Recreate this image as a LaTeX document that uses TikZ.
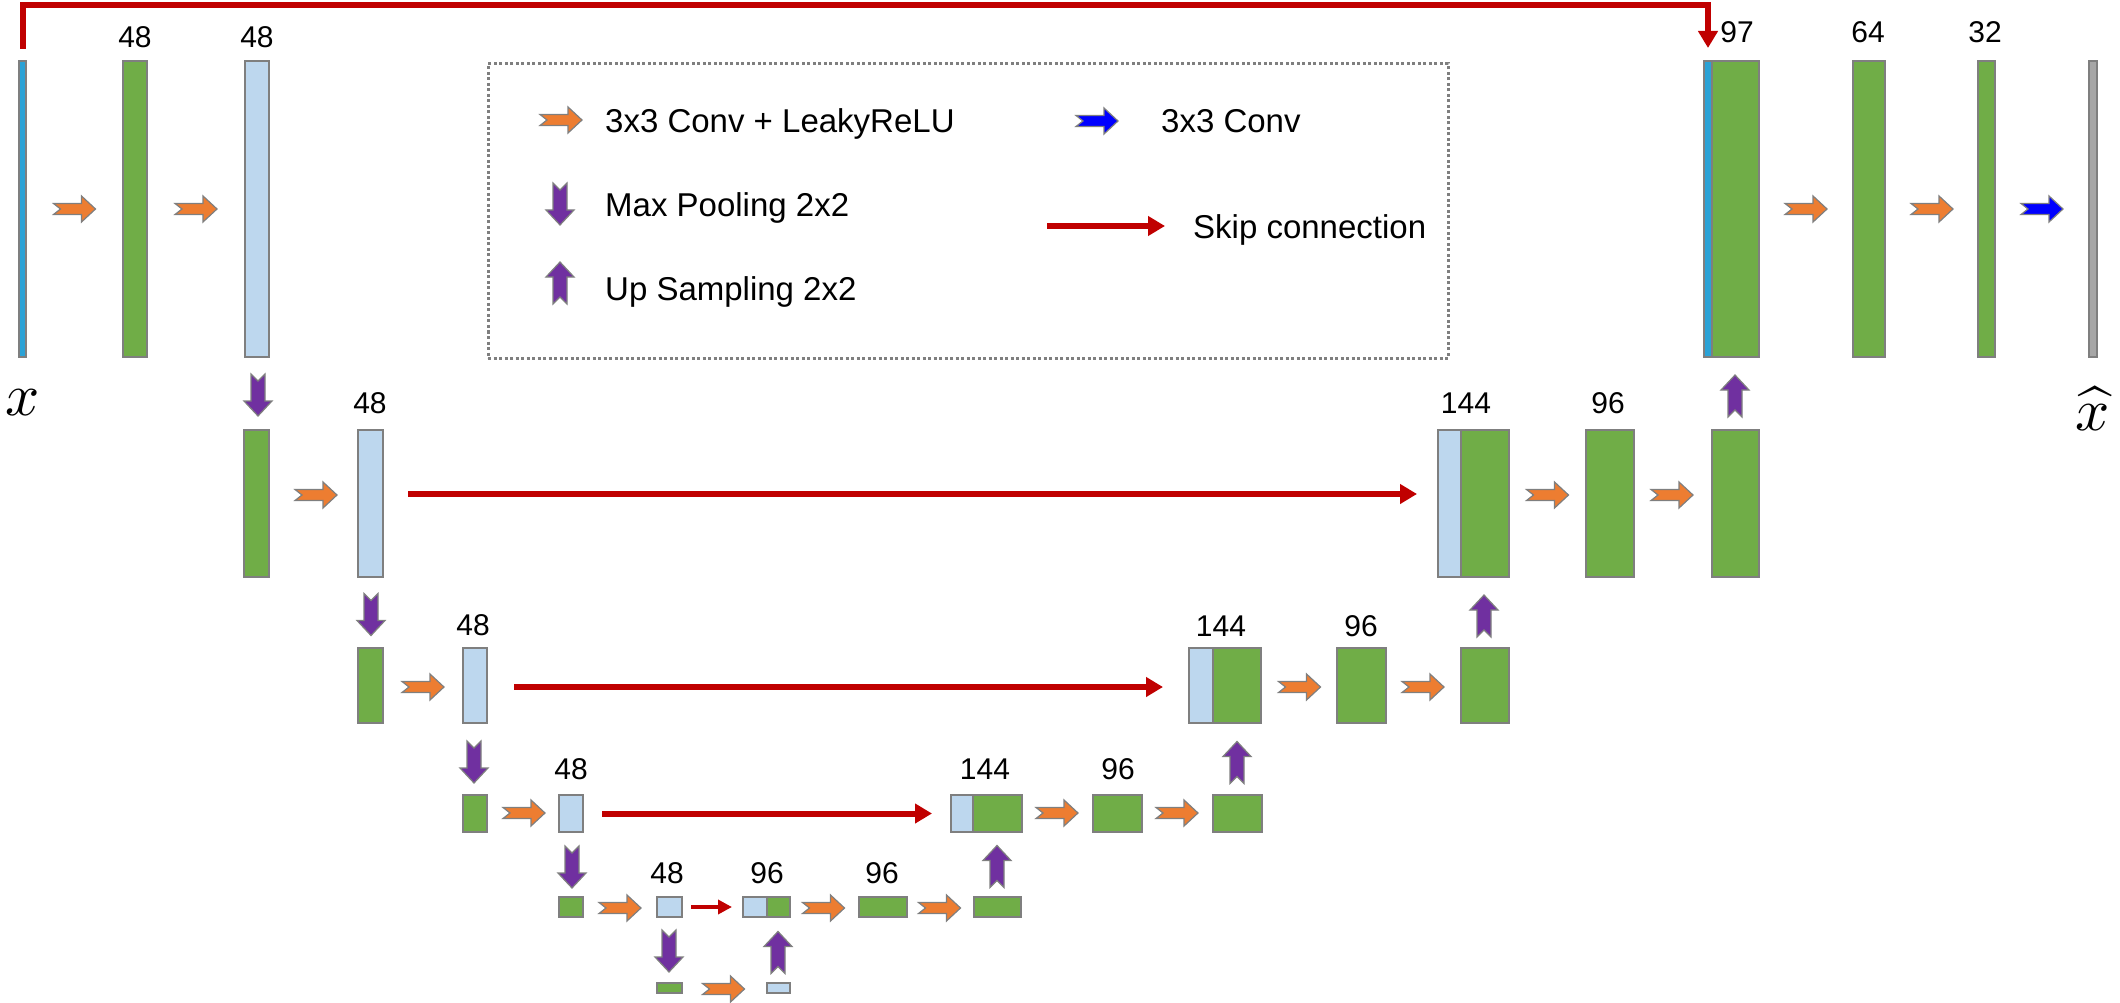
\documentclass[tikz,border=0pt]{standalone}
\usepackage{graphicx}
\usepackage{fontspec}
\setmainfont{Liberation Sans}
\usetikzlibrary{arrows.meta}
\definecolor{cgreen}{HTML}{70AD47}
\definecolor{cblue}{HTML}{BDD7EE}
\definecolor{ccyan}{HTML}{2AA2D6}
\definecolor{cgray}{HTML}{A6A6A6}
\definecolor{cedge}{HTML}{7F7F7F}
\definecolor{corange}{HTML}{ED7D31}
\definecolor{cpurple}{HTML}{7030A0}
\definecolor{cconv}{HTML}{0000FF}
\definecolor{cred}{HTML}{C00000}
\newcommand\bx[6]{%
  \pgfmathsetmacro\bw{#4-#3}\pgfmathsetmacro\bh{#6-#5}%
  \pgfmathsetmacro\bcx{(#3+#4)/2}\pgfmathsetmacro\bcy{(#5+#6)/2}%
  \node[#1,minimum width=\bw pt,minimum height=\bh pt] (#2) at (\bcx,\bcy) {};}
\tikzset{
  rarr/.pic={\path[pic actions] (-21,-5.5) -- (7,-5.5) -- (7,-13) -- (21,0) -- (7,13) -- (7,5.5) -- (-21,5.5) -- (-14,0) -- cycle;},
  parr/.pic={\path[pic actions] (-21,-7) -- (6,-7) -- (6,-14) -- (21,0) -- (6,14) -- (6,7) -- (-21,7) -- (-14,0) -- cycle;}
}
\begin{document}
\begin{tikzpicture}[x=1pt,y=-1pt,
  box/.style={draw=cedge,line width=2pt,inner sep=0pt,outer sep=0pt},
  gb/.style={box,fill=cgreen},
  bb/.style={box,fill=cblue},
  cyanb/.style={box,fill=ccyan},
  grayb/.style={box,fill=cgray},
  oarr/.style={fill=corange,draw=cedge,line width=1.2pt},
  barr/.style={fill=cconv,draw=cedge,line width=1.2pt},
  pdown/.style={fill=cpurple,draw=cedge,line width=1.2pt,rotate=-90},
  pup/.style={fill=cpurple,draw=cedge,line width=1.2pt,rotate=90},
  skip/.style={draw=cred,line width=6pt,-{Triangle[length=17pt,width=19pt]}},
  skipsmall/.style={draw=cred,line width=4.5pt,-{Triangle[length=14pt,width=14pt]}},
  lab/.style={font=\fontsize{30}{30}\selectfont,anchor=base,inner sep=0pt},
  leg/.style={font=\fontsize{33}{33}\selectfont,anchor=base west,inner sep=0pt},
  legendbox/.style={draw=cedge,line width=3pt,dash pattern=on 3pt off 2.5pt,inner sep=0pt}
]
\path[use as bounding box] (0,0) rectangle (2120,1003);

% legend
\node[legendbox,minimum width=960pt,minimum height=294pt] (legend) at (968,211) {};
\pic[oarr] at (561,120) {rarr};
\node[leg] (t1) at (605,133) {3x3 Conv + LeakyReLU};
\pic[barr] at (1097,121) {rarr};
\node[leg] (t2) at (1161,133) {3x3 Conv};
\pic[pdown] at (560,204) {parr};
\node[leg] (t3) at (605,217) {Max Pooling 2x2};
\pic[pup] at (560,283) {parr};
\node[leg] (t4) at (605,300) {Up Sampling 2x2};
\coordinate (sk1) at (1047,226);
\coordinate (sk2) at (1165,226);
\draw[skip] (sk1) -- (sk2);
\node[leg] (t5) at (1193,238) {Skip connection};

% level 0
\bx{cyanb}{in}{19}{26}{61}{357}
\bx{gb}{g0a}{123}{147}{61}{357}
\bx{bb}{b0}{245}{269}{61}{357}
\bx{cyanb}{c0b}{1704}{1712}{61}{357}
\bx{gb}{c0g}{1712}{1759}{61}{357}
\bx{gb}{g0c}{1853}{1885}{61}{357}
\bx{gb}{g0d}{1978}{1995}{61}{357}
\bx{grayb}{out}{2089}{2097}{61}{357}
% level 1
\bx{gb}{g1a}{244}{269}{430}{577}
\bx{bb}{b1}{358}{383}{430}{577}
\bx{bb}{c1b}{1438}{1461}{430}{577}
\bx{gb}{c1g}{1461}{1509}{430}{577}
\bx{gb}{g1c}{1586}{1634}{430}{577}
\bx{gb}{g1d}{1712}{1759}{430}{577}
% level 2
\bx{gb}{g2a}{358}{383}{648}{723}
\bx{bb}{b2}{463}{487}{648}{723}
\bx{bb}{c2b}{1189}{1213}{648}{723}
\bx{gb}{c2g}{1213}{1261}{648}{723}
\bx{gb}{g2c}{1337}{1386}{648}{723}
\bx{gb}{g2d}{1461}{1509}{648}{723}
% level 3
\bx{gb}{g3a}{463}{487}{795}{832}
\bx{bb}{b3}{559}{583}{795}{832}
\bx{bb}{c3b}{951}{973}{795}{832}
\bx{gb}{c3g}{973}{1022}{795}{832}
\bx{gb}{g3c}{1093}{1142}{795}{832}
\bx{gb}{g3d}{1213}{1262}{795}{832}
% level 4
\bx{gb}{g4a}{559}{583}{897}{917}
\bx{bb}{b4}{657}{682}{897}{917}
\bx{bb}{c4b}{743}{767}{897}{917}
\bx{gb}{c4g}{767}{790}{897}{917}
\bx{gb}{g4c}{859}{907}{897}{917}
\bx{gb}{g4d}{974}{1021}{897}{917}
% level 5
\bx{gb}{g5a}{657}{682}{983}{993}
\bx{bb}{b5}{767}{790}{983}{993}

% labels
\node[lab] (l0a) at (135,48) {48};
\node[lab] (l0b) at (257,48) {48};
\node[lab] (l0c) at (1737,43) {97};
\node[lab] (l0d) at (1868,43) {64};
\node[lab] (l0e) at (1985,43) {32};
\node[lab] (l1a) at (370,413) {48};
\node[lab] (l1b) at (1466,413) {144};
\node[lab] (l1c) at (1608,413) {96};
\node[lab] (l2a) at (473,635) {48};
\node[lab] (l2b) at (1221,636) {144};
\node[lab] (l2c) at (1361,636) {96};
\node[lab] (l3a) at (571,779) {48};
\node[lab] (l3b) at (985,779) {144};
\node[lab] (l3c) at (1118,779) {96};
\node[lab] (l4a) at (667,883) {48};
\node[lab] (l4b) at (767,883) {96};
\node[lab] (l4c) at (882,883) {96};
\node[anchor=base,inner sep=0pt] (xin) at (23,415) {\scalebox{6}{$x$}};
\node[anchor=base,inner sep=0pt] (xout) at (2093,430) {\scalebox{6}{$\widehat{x}$}};

% conv arrows
\pic[oarr] at (74.5,209) {rarr};
\pic[oarr] at (196,209) {rarr};
\pic[oarr] at (1806,209) {rarr};
\pic[oarr] at (1932,209) {rarr};
\pic[barr] at (2042,209) {rarr};
\pic[oarr] at (316,495) {rarr};
\pic[oarr] at (1547.5,495) {rarr};
\pic[oarr] at (1672,495) {rarr};
\pic[oarr] at (423,687) {rarr};
\pic[oarr] at (1299.5,687) {rarr};
\pic[oarr] at (1423,687) {rarr};
\pic[oarr] at (524,813) {rarr};
\pic[oarr] at (1057,813) {rarr};
\pic[oarr] at (1177,813) {rarr};
\pic[oarr] at (620,908) {rarr};
\pic[oarr] at (823.5,908) {rarr};
\pic[oarr] at (939.5,908) {rarr};
\pic[oarr] at (723.5,989) {rarr};

% pooling / upsampling
\pic[pdown] at (258,395) {parr};
\pic[pdown] at (371,614.5) {parr};
\pic[pdown] at (474,762) {parr};
\pic[pdown] at (572,867) {parr};
\pic[pdown] at (669,951) {parr};
\pic[pup] at (1735,396) {parr};
\pic[pup] at (1484,616) {parr};
\pic[pup] at (1237,762.5) {parr};
\pic[pup] at (997,866.5) {parr};
\pic[pup] at (778,952.5) {parr};

% skip connections
\draw[skip] ([yshift=12pt]in.north) -- ++(0,-44) -| ([yshift=13pt]c0b.north);
\draw[skip] ([xshift=25pt,yshift=9.5pt]b1.east) -- ([xshift=-21pt,yshift=9.5pt]c1b.west);
\draw[skip] ([xshift=27pt,yshift=-1.5pt]b2.east) -- ([xshift=-26pt,yshift=-1.5pt]c2b.west);
\draw[skip] ([xshift=19pt]b3.east) -- ([xshift=-19pt]c3b.west);
\draw[skipsmall] ([xshift=9pt]b4.east) -- ([xshift=-11pt]c4b.west);
\end{tikzpicture}
\end{document}
